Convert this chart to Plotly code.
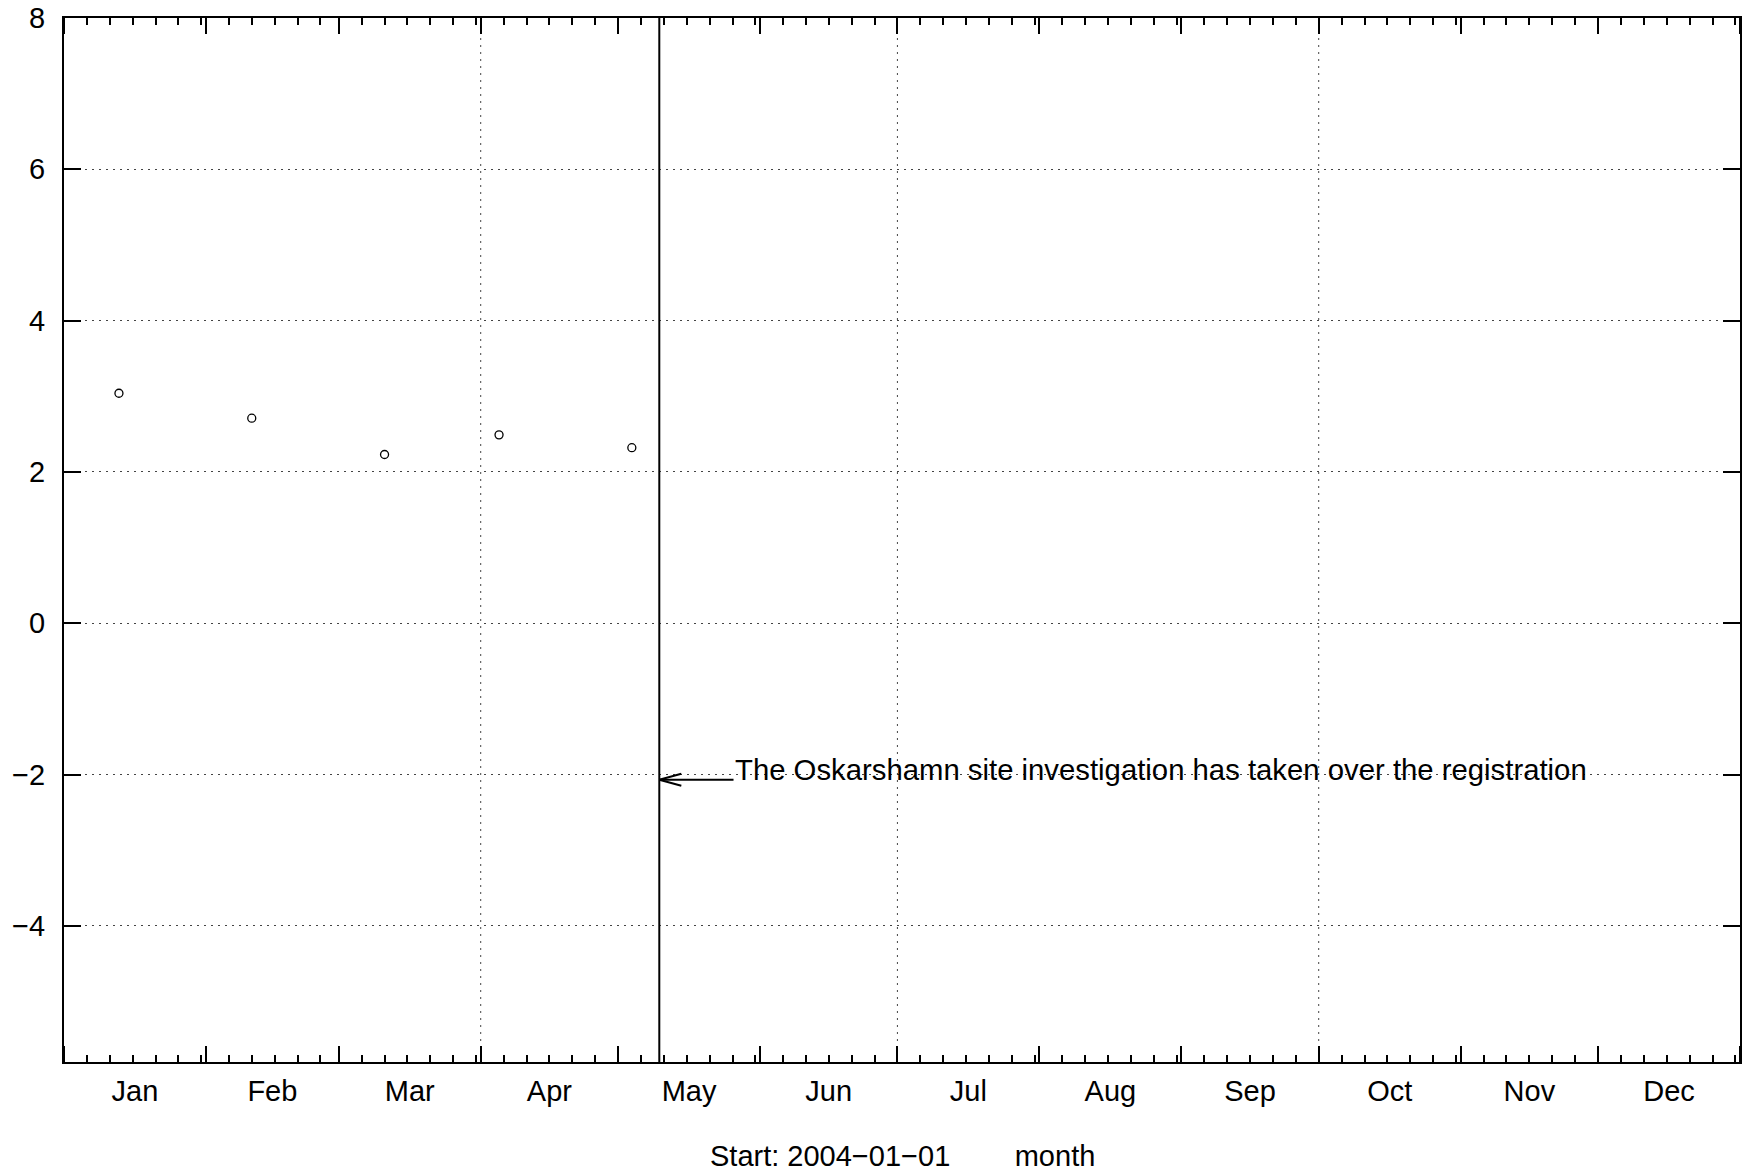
import plotly.graph_objects as go
import datetime as dt

# ---- data ----
obs_dates = ["2004-01-13", "2004-02-11", "2004-03-11", "2004-04-05", "2004-05-04"]
obs_values = [3.04, 2.71, 2.23, 2.49, 2.32]

event_date = "2004-05-10"
event_text = "The Oskarshamn site investigation has taken over the registration"
event_arrow_y = -2.07
event_text_y = -1.93
event_text_date = "2004-05-26 05:00"

x_range = ["2004-01-01", "2005-01-01"]
y_range = [-5.8, 8]
y_ticks = [-4, -2, 0, 2, 4, 6, 8]
grid_dates = ["2004-04-01", "2004-07-01", "2004-10-01"]
x_title = "Start: 2004\u221201\u221201" + "\u00a0" * 8 + "month"

# minor ticks every 5 days within each month (6th, 11th, ... of month)
minor_vals = []
d = dt.date(2004, 1, 1)
while d.year == 2004:
    if d.day in (6, 11, 16, 21, 26, 31):
        minor_vals.append(d.isoformat())
    d += dt.timedelta(days=1)

FONT = "Liberation Sans, Arial, Helvetica, sans-serif"
FS = 29
GRID = dict(color="#444", width=1, dash="2px,5px")

fig = go.Figure()
fig.add_trace(go.Scatter(
    x=obs_dates, y=obs_values, mode="markers",
    marker=dict(symbol="circle-open", size=8, color="black", line=dict(width=1.3)),
    showlegend=False, cliponaxis=False))

shapes = []
for g in grid_dates:
    shapes.append(dict(type="line", xref="x", yref="paper", x0=g, x1=g, y0=0, y1=1,
                       line=GRID, layer="below"))
# event vertical line
shapes.append(dict(type="line", xref="x", yref="paper", x0=event_date, x1=event_date,
                   y0=0, y1=1, line=dict(color="black", width=2)))
# arrow shaft
shapes.append(dict(type="line", xref="x", yref="y", x0=event_date, x1=event_text_date,
                   y0=event_arrow_y, y1=event_arrow_y, line=dict(color="black", width=2)))
# open arrow head
for s in (1, -1):
    shapes.append(dict(type="line", xref="x", yref="y", xsizemode="pixel", ysizemode="pixel",
                       xanchor=event_date, yanchor=event_arrow_y,
                       x0=0, x1=22, y0=0, y1=6 * s, line=dict(color="black", width=2)))

fig.update_layout(
    width=1754, height=1176,
    margin=dict(l=64, r=14, t=18, b=114),
    paper_bgcolor="white", plot_bgcolor="white",
    font=dict(family=FONT, size=FS, color="black"),
    shapes=shapes,
    annotations=[
        dict(x=event_text_date, y=event_text_y, xref="x", yref="y",
             text=event_text, showarrow=False, xanchor="left", yanchor="middle",
             xshift=-1, font=dict(size=29.3, family=FONT, color="black")),
        dict(x=0.5, y=0, xref="paper", yref="paper", text=x_title, showarrow=False,
             xanchor="center", yanchor="middle", yshift=-94,
             font=dict(size=FS, family=FONT, color="black")),
    ],
    xaxis=dict(
        type="date", range=x_range, tick0="2004-01-01", dtick="M1",
        tickformat="%b", ticklabelmode="period", automargin=False,
        ticks="inside", ticklen=16, tickwidth=2, tickcolor="black",
        showline=True, linewidth=2, linecolor="black", mirror="ticks",
        showgrid=False, zeroline=False, ticklabelstandoff=2,
        ticklabeloverflow="allow",
        minor=dict(tickmode="array", tickvals=minor_vals, ticks="inside",
                   ticklen=7, tickwidth=2, tickcolor="black", showgrid=False),
    ),
    yaxis=dict(
        range=y_range, tickmode="array", tickvals=y_ticks, automargin=False,
        ticks="inside", ticklen=17, tickwidth=2, tickcolor="black",
        showline=True, linewidth=2, linecolor="black", mirror="ticks",
        showgrid=True, gridcolor="#444", gridwidth=1, griddash="2px,5px",
        zeroline=False, ticklabelstandoff=11, ticklabeloverflow="allow",
    ),
)

fig.write_html("out.html", config={"displayModeBar": False},
               post_script="document.body.style.margin='0';")
